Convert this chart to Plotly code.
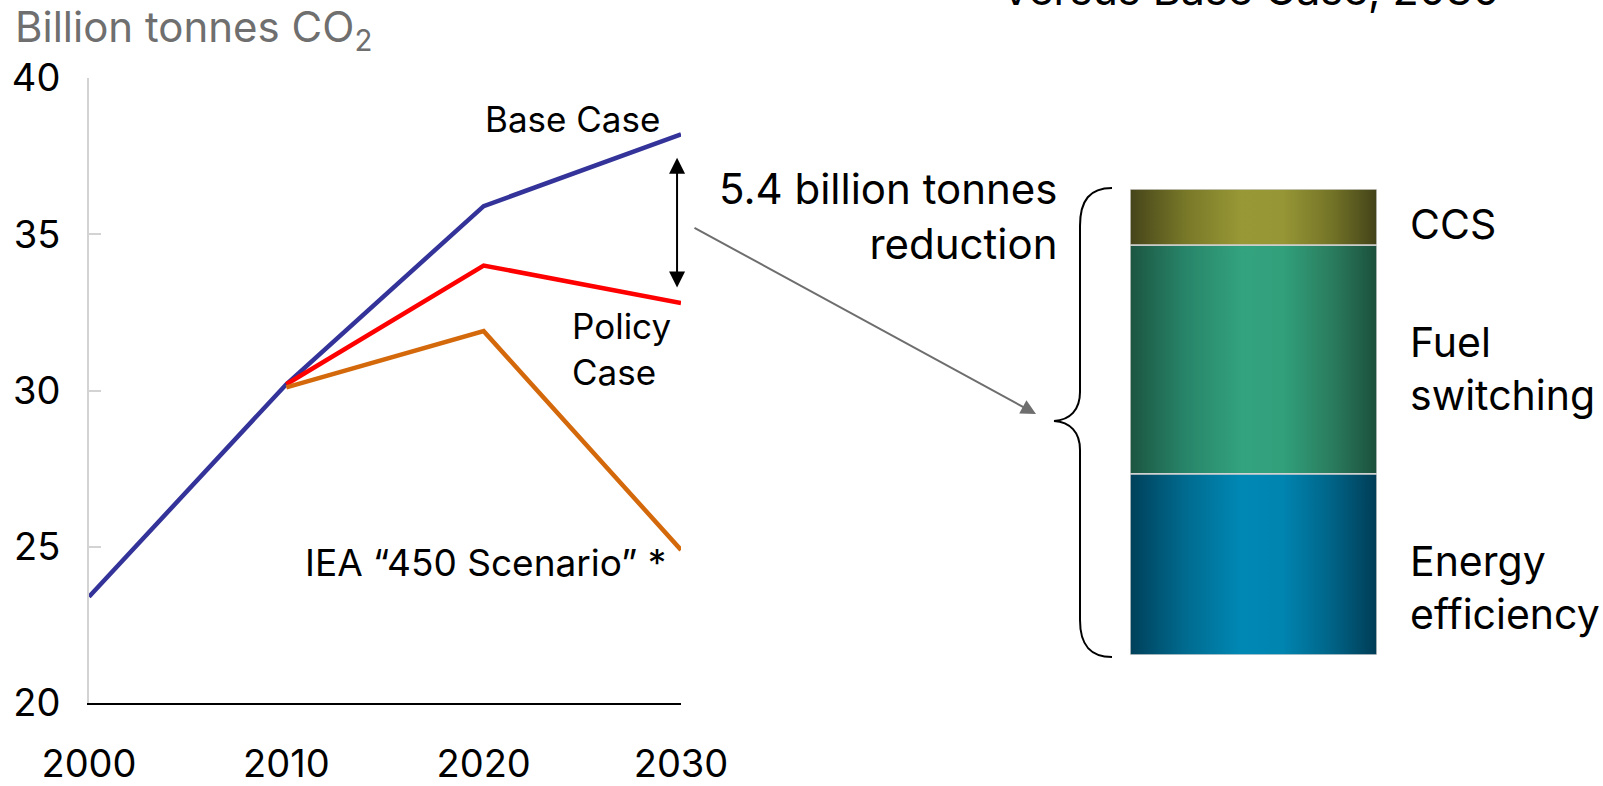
import plotly.graph_objects as go

# Emissions pathways, billion tonnes CO2
years = [2000, 2010, 2020, 2030]
base_case = [23.4, 30.2, 35.9, 38.2]
policy_case = [None, 30.2, 34.0, 32.8]
iea_450 = [None, 30.1, 31.9, 24.9]

y_ticks = [20, 25, 30, 35, 40]
x_ticks = [2000, 2010, 2020, 2030]

# Breakdown of the 2030 reduction (policy vs base), billion tonnes
lever_names = ["Energy<br>efficiency", "Fuel<br>switching", "CCS"]
lever_values = [2.1, 2.65, 0.65]
lever_colors = [
    [[0, "#00405a"], [0.22, "#006a8e"], [0.45, "#0088b5"], [0.62, "#0084b0"], [0.82, "#006386"], [1, "#003c55"]],
    [[0, "#1c5541"], [0.22, "#278468"], [0.45, "#33a27e"], [0.62, "#31a07b"], [0.82, "#2a7c5e"], [1, "#1b4f3c"]],
    [[0, "#45441a"], [0.22, "#777728"], [0.45, "#989836"], [0.62, "#969636"], [0.82, "#737327"], [1, "#424219"]],
]

W, H = 1603, 786
FONT = "Inter"


def px(x):
    return x / W


def py(y):
    return 1 - y / H


fig = go.Figure()

fig.add_trace(go.Scatter(x=years, y=base_case, mode="lines", name="Base Case",
                         line=dict(color="#333399", width=4.5)))
fig.add_trace(go.Scatter(x=years, y=policy_case, mode="lines", name="Policy Case",
                         line=dict(color="#ff0000", width=4.5)))
fig.add_trace(go.Scatter(x=years, y=iea_450, mode="lines", name="IEA 450 Scenario",
                         line=dict(color="#d4690c", width=4.5)))

# Stacked reduction column with horizontal shading
bottom = 0.0
for name, val, cs in zip(lever_names, lever_values, lever_colors):
    top = bottom + val
    fig.add_trace(go.Scatter(
        x=[0, 1, 1, 0, 0], y=[bottom, bottom, top, top, bottom],
        xaxis="x2", yaxis="y2", mode="lines", fill="toself",
        fillgradient=dict(type="horizontal", colorscale=cs),
        line=dict(color="#d2d2d2", width=1.5), name=name.replace("<br>", " "),
        hoverinfo="skip"))
    bottom = top
total_reduction = bottom

annotations = []


def label(text, x, y, xanchor="left", size=36, color="#000000", align="left"):
    annotations.append(dict(text=text, x=px(x), y=py(y), xref="paper", yref="paper",
                            xanchor=xanchor, yanchor="middle", showarrow=False,
                            align=align, font=dict(family=FONT, size=size, color=color)))


label("Billion tonnes CO<sub>2</sub>", 13, 30, size=42, color="#6f6f6f")
label("Base Case", 572, 119, xanchor="center", size=35)
label("Policy<br>Case", 570, 349, size=35)
label("IEA \u201c450 Scenario\u201d *", 668, 562, xanchor="right", size=37, align="right")
label("5.4 billion tonnes<br>reduction", 1059, 216, xanchor="right", size=42, align="right")
label(lever_names[2], 1408, 224, size=41)
label(lever_names[1], 1408, 369, size=41)
label(lever_names[0], 1408, 587, size=41)

# Heading above the column, partly outside the canvas
annotations.append(dict(text="Versus Base Case, 2030", x=px(1250), y=py(17), xref="paper", yref="paper",
                        xanchor="center", yanchor="bottom", showarrow=False,
                        font=dict(family=FONT, size=43, color="#000000")))

# Gap between the base and policy cases in 2030
annotations.append(dict(x=2029.8, y=policy_case[-1] + 0.5, xref="x", yref="y",
                        ax=2029.8, ay=base_case[-1] - 0.7, axref="x", ayref="y",
                        text="", showarrow=True, arrowside="end+start",
                        arrowhead=2, startarrowhead=2, arrowsize=1.6, startarrowsize=1.6,
                        arrowwidth=2, arrowcolor="#000000"))

# Pointer from the gap to the breakdown
annotations.append(dict(x=px(1036), y=py(414), xref="paper", yref="paper",
                        ax=693 - 1036, ay=227 - 414, text="", showarrow=True,
                        arrowhead=2, arrowsize=1.5, arrowwidth=2, arrowcolor="#6e6e6e"))


def brace_path():
    pts = [
        ("M", [(1112, 188)]),
        ("C", [(1090, 188), (1080, 200), (1080, 226)]),
        ("L", [(1080, 392)]),
        ("C", [(1080, 410), (1070, 420), (1054, 421)]),
        ("C", [(1070, 422), (1080, 432), (1080, 450)]),
        ("L", [(1080, 620)]),
        ("C", [(1080, 645), (1090, 657), (1112, 657)]),
    ]
    out = []
    for cmd, coords in pts:
        out.append(cmd + " " + " ".join(f"{px(x):.5f},{py(y):.5f}" for x, y in coords))
    return " ".join(out)


fig.update_layout(
    width=W, height=H,
    margin=dict(l=0, r=0, t=0, b=0, autoexpand=False),
    paper_bgcolor="white", plot_bgcolor="white",
    showlegend=False,
    font=dict(family=FONT, color="#000000"),
    xaxis=dict(domain=[px(89), px(681)], range=[2000, 2030], tickvals=x_ticks,
               showline=True, linecolor="#000000", linewidth=2, showgrid=False,
               zeroline=False, ticks="", tickfont=dict(size=38), ticklabelstandoff=26,
               automargin=False, fixedrange=True),
    yaxis=dict(domain=[py(703), py(78)], range=[20, 40], tickvals=y_ticks,
               ticks="inside", ticklen=12, tickwidth=2, tickcolor="#d3d3d3",
               showline=True, linecolor="#d3d3d3", linewidth=2, showgrid=False,
               zeroline=False, tickfont=dict(size=38), ticklabelstandoff=19,
               automargin=False, fixedrange=True),
    xaxis2=dict(domain=[px(1130), px(1377)], range=[0, 1], visible=False, anchor="y2",
                automargin=False, fixedrange=True),
    yaxis2=dict(domain=[py(655), py(189)], range=[0, total_reduction], visible=False,
                anchor="x2", automargin=False, fixedrange=True),
    annotations=annotations,
    shapes=[dict(type="path", xref="paper", yref="paper", path=brace_path(),
                 line=dict(color="#000000", width=2))],
)

fig.write_html("out.html", config={"displayModeBar": False})
